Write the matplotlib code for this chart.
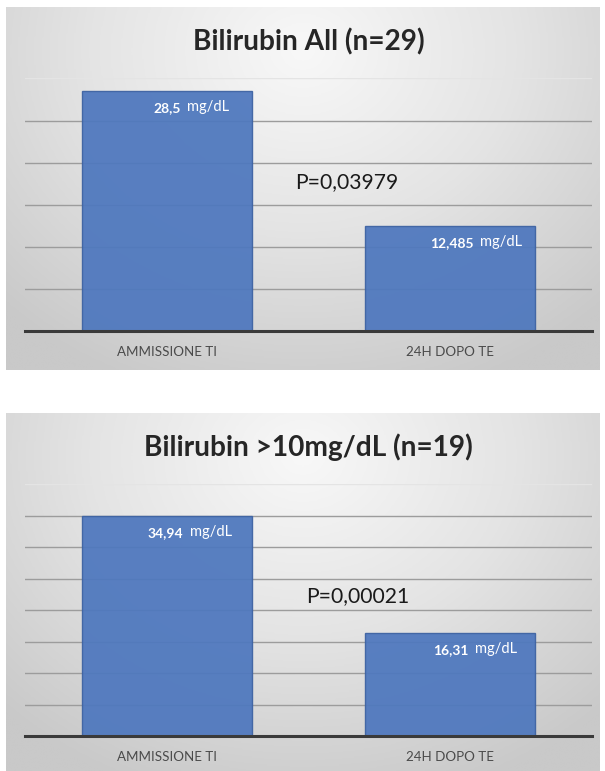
import numpy as np
import matplotlib
matplotlib.use("Agg")
import matplotlib.pyplot as plt
from matplotlib.colors import LinearSegmentedColormap

plt.rcParams["font.family"] = ["Lato", "DejaVu Sans"]

# Data
categories = ["AMMISSIONE TI", "24H DOPO TE"]
titles = ["Bilirubin All (n=29)", "Bilirubin >10mg/dL (n=19)"]
values_all = [28.5, 12.485]
values_high = [34.94, 16.31]
value_texts_all = ["28,5", "12,485"]
value_texts_high = ["34,94", "16,31"]
unit = "mg/dL"
p_values = ["P=0,03979", "P=0,00021"]
y_max = [30, 40]
y_step = 5

W, H = 605, 771
fig = plt.figure(figsize=(W / 100, H / 100), dpi=100)
fig.patch.set_facecolor("white")

bg_cmap = LinearSegmentedColormap.from_list("bg", ["#f8f8f8", "#e4e4e4", "#c9c9c9"])


def panel_background(rect):
    bg = fig.add_axes(rect, zorder=0)
    ny, nx = 300, 500
    yy, xx = np.mgrid[0:1:ny * 1j, 0:1:nx * 1j]
    # radial falloff from a bright spot near the title
    r = np.sqrt(((xx - 0.5) / 0.72) ** 2 + ((yy - 0.12) / 1.0) ** 2)
    bg.imshow(np.clip(r, 0, 1), cmap=bg_cmap, vmin=0, vmax=1,
              aspect="auto", extent=(0, 1, 1, 0), interpolation="bilinear")
    bg.set_xlim(0, 1)
    bg.set_ylim(1, 0)
    bg.axis("off")


def px_rect(x0, y0, x1, y1):
    return [x0 / W, 1 - y1 / H, (x1 - x0) / W, (y1 - y0) / H]


panels = [
    dict(bg=(6, 7, 600, 370), ax=(25, 78.4, 592, 331), title_y=42, p_xy=(0.568, 0.59),
         vals=values_all, texts=value_texts_all, split=[0.061, 1.094]),
    dict(bg=(6, 413, 600, 771), ax=(25, 484, 592, 736), title_y=447, p_xy=(0.586, 0.556),
         vals=values_high, texts=value_texts_high, split=[0.071, 1.076]),
]

for i, pnl in enumerate(panels):
    panel_background(px_rect(*pnl["bg"]))
    ax = fig.add_axes(px_rect(*pnl["ax"]), zorder=2)
    ax.patch.set_alpha(0)
    x = np.arange(len(categories))
    ax.bar(x, pnl["vals"], width=0.6, color="#4f78be", edgecolor="#3e63a3",
           linewidth=1.0, alpha=0.94, zorder=2)
    ax.set_xlim(-0.5, 1.5)
    ax.set_ylim(0, y_max[i])
    ax.set_yticks(np.arange(0, y_max[i] + 0.1, y_step))
    ax.yaxis.grid(True, color="#9c9c9c", linewidth=1.0, zorder=1)
    ax.set_axisbelow(True)
    ax.get_ygridlines()[-1].set_color("#e4e4e4")
    ax.tick_params(axis="y", length=0, labelleft=False)
    ax.set_xticks(x)
    ax.set_xticklabels(categories, fontsize=9.6, color="#4a4a4a")
    ax.tick_params(axis="x", length=0, pad=11)
    for s in ["left", "right", "top"]:
        ax.spines[s].set_visible(False)
    ax.spines["bottom"].set_color("#3a3a3a")
    ax.spines["bottom"].set_linewidth(2.2)
    ax.spines["bottom"].set_zorder(3)

    for xi, v, t, sx in zip(x, pnl["vals"], pnl["texts"], pnl["split"]):
        ax.annotate(t, xy=(sx - 0.012, v), xytext=(0, -17), textcoords="offset pixels",
                    ha="right", va="center", fontsize=10, fontweight="bold",
                    color="white", zorder=4)
        ax.annotate(unit, xy=(sx + 0.012, v), xytext=(0, -16), textcoords="offset pixels",
                    ha="left", va="center", fontsize=10.5, color="white", zorder=4)

    ax.text(*pnl["p_xy"], p_values[i], transform=ax.transAxes, ha="center",
            va="center", fontsize=15.2, color="#1a1a1a")

    fig.text(308.5 / W, 1 - pnl["title_y"] / H, titles[i], ha="center", va="center",
             fontsize=20.2, fontweight="bold", color="#262626")

fig.savefig("out.png", dpi=100)
